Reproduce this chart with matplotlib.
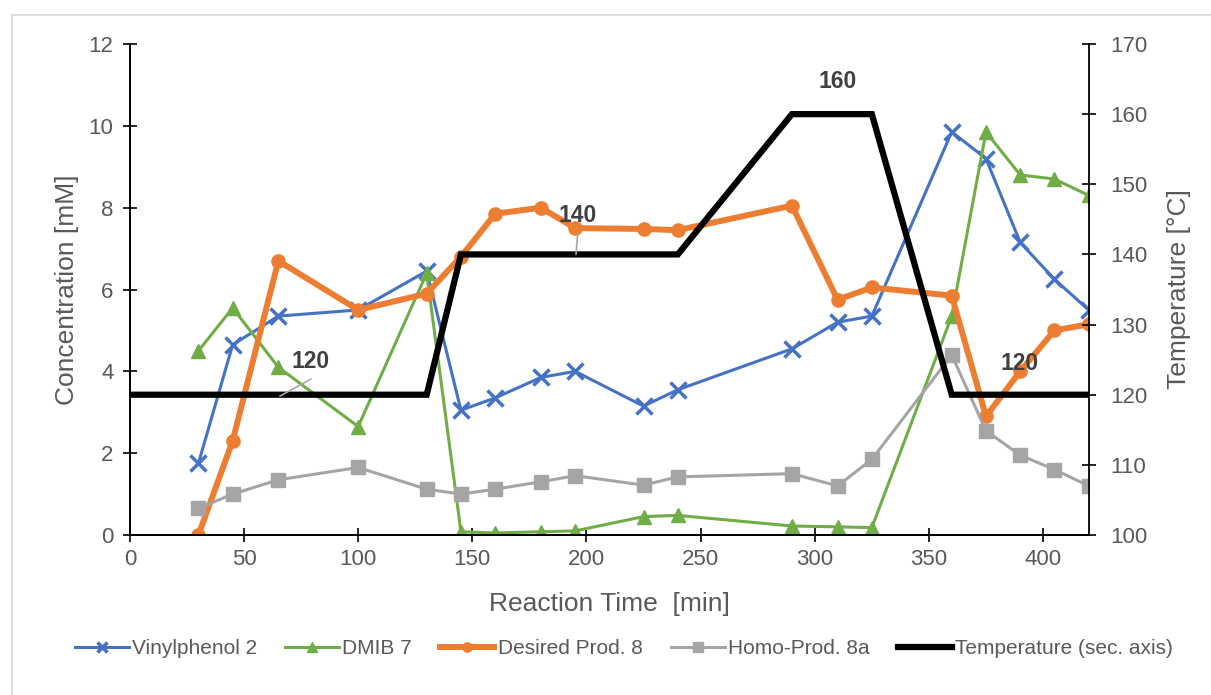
import matplotlib
matplotlib.use("Agg")
import matplotlib.pyplot as plt
from matplotlib.lines import Line2D

plt.rcParams.update({"font.family": ["Liberation Sans", "DejaVu Sans"]})

time_min = [30, 45, 65, 100, 130, 145, 160, 180, 195, 225, 240, 290, 310, 325, 360, 375, 390, 405, 420]
vinylphenol = [1.75, 4.65, 5.35, 5.5, 6.45, 3.05, 3.35, 3.85, 4.0, 3.15, 3.55, 4.55, 5.2, 5.35, 9.85, 9.2, 7.15, 6.25, 5.5]
dmib = [4.5, 5.55, 4.1, 2.65, 6.4, 0.08, 0.05, 0.08, 0.1, 0.45, 0.48, 0.22, 0.2, 0.18, 5.35, 9.85, 8.8, 8.7, 8.3]
desired = [0.0, 2.3, 6.7, 5.5, 5.9, 6.8, 7.85, 8.0, 7.5, 7.48, 7.45, 8.05, 5.75, 6.05, 5.85, 2.9, 4.0, 5.0, 5.15]
homo = [0.65, 1.0, 1.35, 1.65, 1.12, 1.0, 1.12, 1.3, 1.45, 1.22, 1.42, 1.5, 1.2, 1.85, 4.4, 2.55, 1.95, 1.6, 1.2]

temp_time = [0, 130, 145, 240, 290, 325, 360, 420]
temp_c = [120, 120, 140, 140, 160, 160, 120, 120]

# data labels on the temperature line: (text, anchor point, text position)
temp_labels = [
    ("120", (65.7, 119.8), (79.3, 124.7)),
    ("140", (195.4, 140.0), (196.2, 145.6)),
    ("160", None, (310.0, 164.6)),
    ("120", None, (389.8, 124.5)),
]

TXT = "#595959"

fig = plt.figure(figsize=(12.11, 6.95), dpi=100)
ax = fig.add_axes([0.1073, 0.2302, 0.899 - 0.1073, 0.9367 - 0.2302])
ax2 = ax.twinx()

ax.plot(time_min, vinylphenol, color="#4472C4", lw=2.2, marker="x", ms=11, mew=2.5, label="Vinylphenol 2")
ax.plot(time_min, dmib, color="#70AD47", lw=2.2, marker="^", ms=10, label="DMIB 7")
ax.plot(time_min, desired, color="#ED7D31", lw=4.3, marker="o", ms=9.5, label="Desired Prod. 8")
ax.plot(time_min, homo, color="#A5A5A5", lw=2.2, marker="s", ms=9.5, label="Homo-Prod. 8a")
ax2.plot(temp_time, temp_c, color="black", lw=4.5, solid_joinstyle="miter", label="Temperature (sec. axis)")

ax.set_xlim(0, 420)
ax.set_ylim(0, 12)
ax2.set_ylim(100, 170)
ax.set_xticks(range(0, 401, 50))
ax.set_yticks(range(0, 13, 2))
ax2.set_yticks(range(100, 171, 10))

for a in (ax, ax2):
    a.spines["top"].set_visible(False)
    a.tick_params(direction="inout", length=9.5, width=1.2, labelsize=16, labelcolor=TXT, pad=7)
    for s in a.spines.values():
        s.set_linewidth(1.3)
ax.tick_params(axis="x", pad=5)
ax2.tick_params(axis="y", pad=11)
ax.spines["right"].set_visible(False)

ax.set_xlabel("Reaction Time  [min]", fontsize=19, color=TXT, labelpad=16)
ax.set_ylabel("Concentration [mM]", fontsize=19, color=TXT, labelpad=7)
ax2.set_ylabel("Temperature [°C]", fontsize=19, color=TXT, labelpad=14)

for text, anchor, pos in temp_labels:
    if anchor is None:
        ax2.text(pos[0], pos[1], text, ha="center", va="center", fontsize=16.5,
                 fontweight="bold", color="#404040")
    else:
        ax2.annotate(text, xy=anchor, xytext=pos, ha="center", va="center", fontsize=16.5,
                     fontweight="bold", color="#404040",
                     arrowprops=dict(arrowstyle="-", color="#A6A6A6", lw=1.2, patchA=None,
                                     shrinkA=0, shrinkB=0, relpos=(0.5, -0.25)))

h1, l1 = ax.get_legend_handles_labels()
h2, l2 = ax2.get_legend_handles_labels()
fig.legend(h1 + h2, l1 + l2, loc="center", bbox_to_anchor=(0.515, 0.067), ncol=5, frameon=False,
           fontsize=15, handlelength=2.6, handletextpad=0.15, columnspacing=1.35, markerscale=0.7,
           labelcolor=TXT)

# light chart-area border
fig.add_artist(Line2D([12 / 1211, 12 / 1211], [0, 1 - 15 / 695], color="#D9D9D9", lw=1.2))
fig.add_artist(Line2D([12 / 1211, 1], [1 - 15 / 695, 1 - 15 / 695], color="#D9D9D9", lw=1.2))

fig.savefig("out.png", dpi=100)
